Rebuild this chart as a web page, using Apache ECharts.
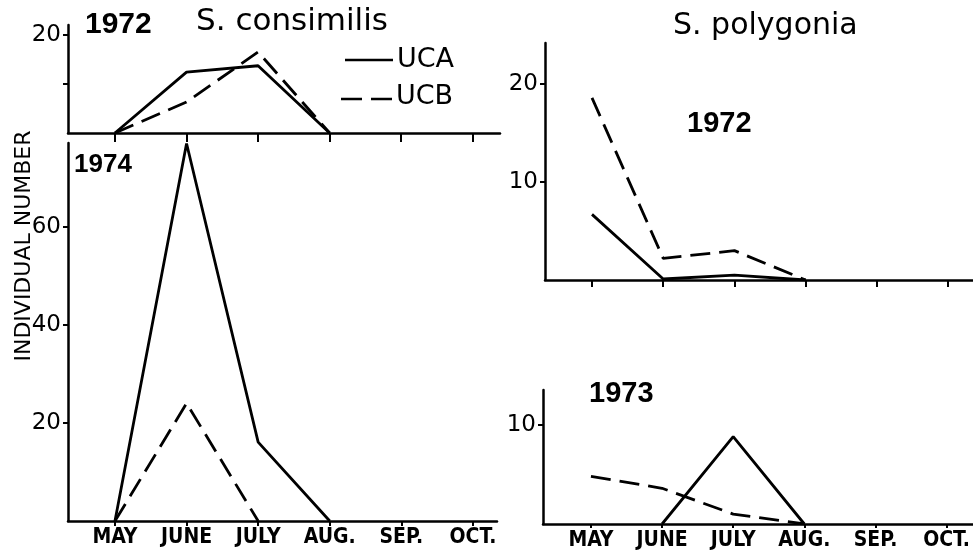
<!DOCTYPE html>
<html>
<head>
<meta charset="utf-8">
<script src="https://cdn.jsdelivr.net/npm/echarts@6/dist/echarts.min.js"></script>
<style>
html,body{margin:0;padding:0;background:#fff;}
#chart{width:973px;height:555px;}
</style>
</head>
<body>
<div id="chart"></div>
<script>
// ---- data (month index 0 = MAY) ----
const months = ['MAY', 'JUNE', 'JULY', 'AUG.', 'SEP.', 'OCT.'];
const monthIdx = [0, 1, 2, 3, 4, 5];

// S. consimilis 1972 (May..Aug)
const consimilis1972UCA = [0, 12.4, 13.7, 0];
const consimilis1972UCB = [0, 6.3, 16.5, 0];
// S. consimilis 1974
const consimilis1974UCA = [0, 77, 16.1, 0];
const consimilis1974UCB = [0, 24, 0];
// S. polygonia 1972
const polygonia1972UCA = [6.7, 0.1, 0.5, 0];
const polygonia1972UCB = [18.6, 2.2, 3.0, 0];
// S. polygonia 1973
const polygonia1973UCA = [null, 0, 8.8, 0];
const polygonia1973UCB = [4.8, 3.6, 1.0, 0];

// y-axis ticks / labels
const ticksC72 = [10, 20], labelsC72 = [20];
const ticksC74 = [20, 40, 60], labelsC74 = [20, 40, 60];
const ticksP72 = [10, 20], labelsP72 = [10, 20];
const ticksP73 = [10], labelsP73 = [10];

function pts(vals) {
  const out = [];
  vals.forEach((v, i) => { if (v !== null && v !== undefined) out.push([i, v]); });
  return out;
}

const chart = echarts.init(document.getElementById('chart'), null, {renderer: 'canvas'});

const AX = {onZero: false, lineStyle: {color: '#000', width: 2.5}};
const labelFont = {color: '#000', fontFamily: "'DejaVu Sans', sans-serif", fontSize: 23};
const monthFont = {color: '#000', fontFamily: "'Liberation Sans Narrow','DejaVu Sans Condensed',sans-serif", fontWeight: 'bold', fontSize: 21};

function xAxis(gi, min, max, showLabels, tickLen) {
  return {
    type: 'value', gridIndex: gi, min: min, max: max,
    axisLine: AX, splitLine: {show: false},
    axisTick: {show: true, inside: false, length: tickLen, lineStyle: {color: '#000', width: 2}, customValues: monthIdx},
    axisLabel: showLabels ? Object.assign({show: true, margin: 6, customValues: monthIdx,
      formatter: v => months[Math.round(v)] || ''}, monthFont) : {show: false}
  };
}
function yAxis(gi, max, ticks, labels) {
  return {
    type: 'value', gridIndex: gi, min: 0, max: max,
    axisLine: {show: true, onZero: false, lineStyle: {color: '#000', width: 2.5}}, splitLine: {show: false},
    axisTick: {show: true, inside: false, length: 5, lineStyle: {color: '#000', width: 2}, customValues: ticks},
    axisLabel: Object.assign({show: true, margin: 7, customValues: labels, formatter: v => String(v)}, labelFont)
  };
}
const solid = {color: '#000', width: 2.8, type: 'solid'};
const dashed = {color: '#000', width: 2.8, type: [20, 9]};
function line(gi, vals, style) {
  return {
    type: 'line', xAxisIndex: gi, yAxisIndex: gi, data: pts(vals),
    symbol: 'none', lineStyle: style, silent: true, animation: false, z: 3
  };
}

const titleFont = "'DejaVu Sans', sans-serif";
const yearFont = "'Liberation Sans', Arial, sans-serif";
function txt(x, y, s, size, weight, family) {
  return {type: 'text', x: x, y: y,
    style: {text: s, fontSize: size, fontWeight: weight, fontFamily: family, fill: '#000',
            align: 'left', verticalAlign: 'middle'}};
}

const option = {
  backgroundColor: '#fff',
  animation: false,
  grid: [
    {left: 68, top: 25, width: 432, height: 108},
    {left: 68, top: 143, width: 429, height: 378},
    {left: 545, top: 43, width: 428, height: 237},
    {left: 543, top: 390, width: 430, height: 134}
  ],
  xAxis: [
    xAxis(0, -0.656, 5.38, false, 9),
    xAxis(1, -0.656, 5.336, true, 5),
    xAxis(2, -0.66, 5.35, false, 7),
    xAxis(3, -0.674, 5.365, true, 4)
  ],
  yAxis: [
    yAxis(0, 22, ticksC72, labelsC72),
    yAxis(1, 77.1, ticksC74, labelsC74),
    yAxis(2, 24.2, ticksP72, labelsP72),
    yAxis(3, 13.5, ticksP73, labelsP73)
  ],
  series: [
    line(0, consimilis1972UCA, solid),
    line(0, consimilis1972UCB, dashed),
    line(1, consimilis1974UCA, solid),
    line(1, consimilis1974UCB, dashed),
    line(2, polygonia1972UCA, solid),
    line(2, polygonia1972UCB, dashed),
    line(3, polygonia1973UCA, solid),
    line(3, polygonia1973UCB, dashed)
  ],
  graphic: [
    txt(85, 25, '1972', 30, 'bold', yearFont),
    txt(196, 22, 'S. consimilis', 31, 'normal', titleFont),
    txt(673, 26, 'S. polygonia', 30, 'normal', titleFont),
    txt(687, 124, '1972', 29, 'bold', yearFont),
    txt(74, 165, '1974', 26, 'bold', yearFont),
    txt(589, 394, '1973', 29, 'bold', yearFont),
    // legend
    {type: 'line', shape: {x1: 345, y1: 60, x2: 393, y2: 60}, style: {stroke: '#000', lineWidth: 2.5}},
    {type: 'line', shape: {x1: 341, y1: 99, x2: 395, y2: 99}, style: {stroke: '#000', lineWidth: 2.5, lineDash: [21, 9]}},
    txt(397, 60, 'UCA', 27, 'normal', titleFont),
    txt(396, 97, 'UCB', 27, 'normal', titleFont),
    // y axis name
    {type: 'text', x: 24, y: 246, rotation: Math.PI / 2,
     style: {text: 'INDIVIDUAL NUMBER', fontSize: 22, fontFamily: titleFont, fill: '#000', align: 'center', verticalAlign: 'middle'}}
  ]
};
chart.setOption(option);
</script>
</body>
</html>
